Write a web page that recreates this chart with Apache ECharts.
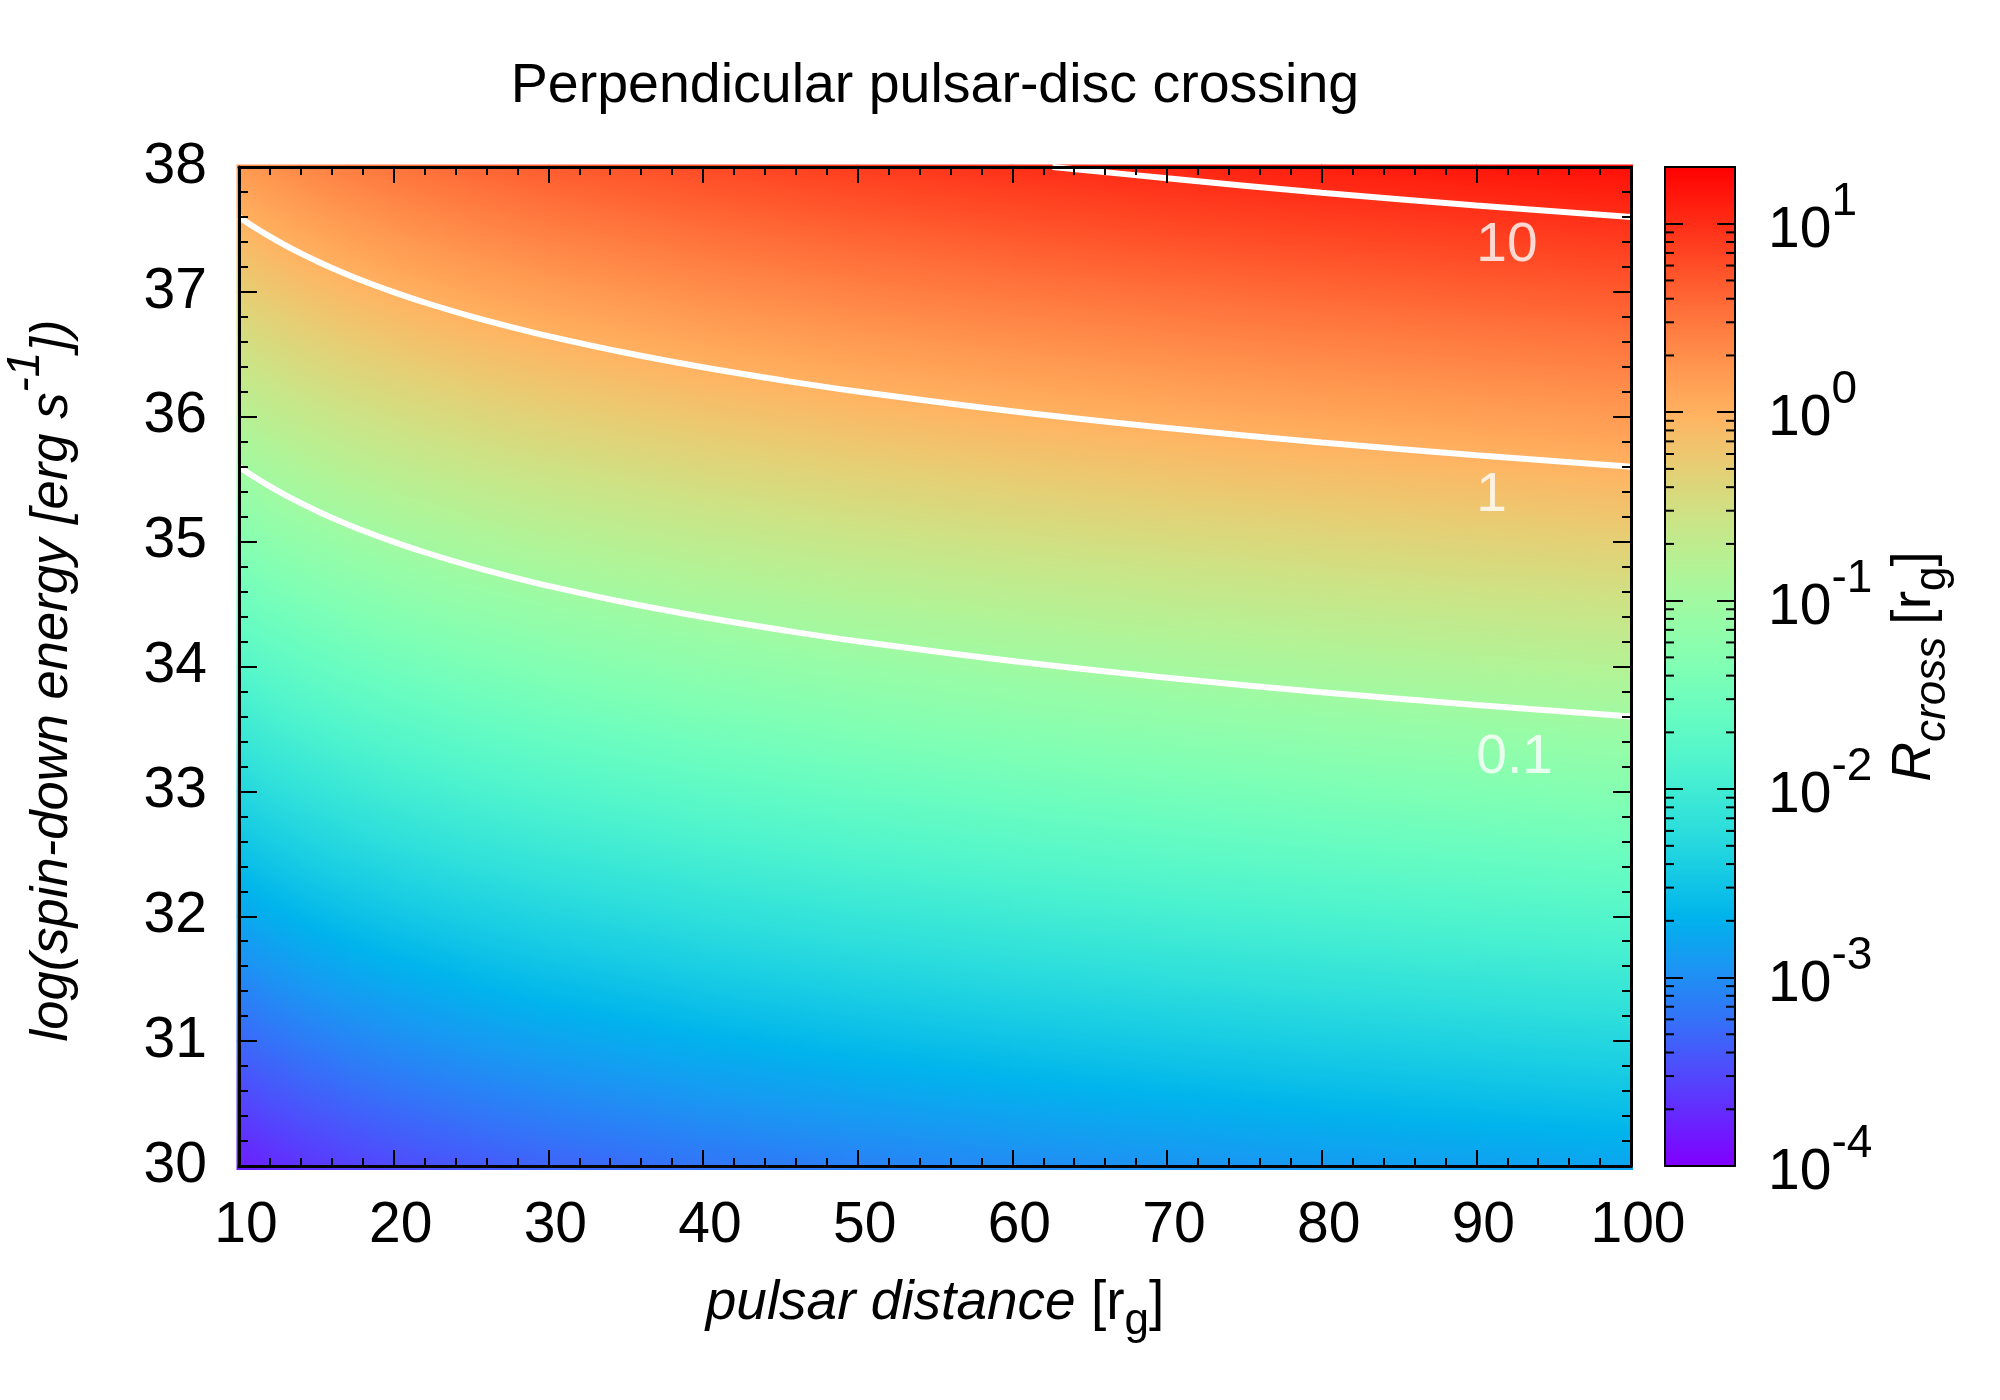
<!DOCTYPE html>
<html>
<head>
    <meta charset="UTF-8">
    <script src="https://cdn.jsdelivr.net/npm/echarts@6/dist/echarts.min.js"></script>
    <title>Perpendicular pulsar-disc crossing</title>
    <style>
        html, body { margin: 0; padding: 0; background: #fff; }
        #chart { width: 2000px; height: 1400px; }
    </style>
</head>
<body>
    <div id="chart"></div>
    <script type="text/javascript">
    // pulsar distance columns and log(spin-down energy) rows of the colour map
    var distances = [10, 12, 14, 17, 20, 25, 30, 40, 50, 60, 70, 80, 90, 100];
    var spinDown = [30, 31, 32, 33, 34, 35, 36, 37, 38];

    var logR30 = [-3.800, -3.721, -3.654, -3.570, -3.499, -3.402, -3.323, -3.198, -3.101, -3.022, -2.955, -2.897, -2.846, -2.800];
    var logR31 = [-3.300, -3.221, -3.154, -3.070, -2.999, -2.902, -2.823, -2.698, -2.601, -2.522, -2.455, -2.397, -2.346, -2.300];
    var logR32 = [-2.800, -2.721, -2.654, -2.570, -2.499, -2.402, -2.323, -2.198, -2.101, -2.022, -1.955, -1.897, -1.846, -1.800];
    var logR33 = [-2.300, -2.221, -2.154, -2.070, -1.999, -1.902, -1.823, -1.698, -1.601, -1.522, -1.455, -1.397, -1.346, -1.300];
    var logR34 = [-1.800, -1.721, -1.654, -1.570, -1.499, -1.402, -1.323, -1.198, -1.101, -1.022, -0.955, -0.897, -0.846, -0.800];
    var logR35 = [-1.300, -1.221, -1.154, -1.070, -0.999, -0.902, -0.823, -0.698, -0.601, -0.522, -0.455, -0.397, -0.346, -0.300];
    var logR36 = [-0.800, -0.721, -0.654, -0.570, -0.499, -0.402, -0.323, -0.198, -0.101, -0.022, 0.045, 0.103, 0.154, 0.200];
    var logR37 = [-0.300, -0.221, -0.154, -0.070, 0.001, 0.098, 0.177, 0.302, 0.399, 0.478, 0.545, 0.603, 0.654, 0.700];
    var logR38 = [0.200, 0.279, 0.346, 0.430, 0.501, 0.598, 0.677, 0.802, 0.899, 0.978, 1.045, 1.103, 1.154, 1.200];
    var logRRows = [logR30, logR31, logR32, logR33, logR34, logR35, logR36, logR37, logR38];

    // contour lines
    var contourX = [10, 11, 12, 13, 14, 15, 16, 18, 20, 22, 25, 28, 30, 35, 40, 45, 50, 60, 70, 80, 90, 100];
    var contour01 = [35.6, 35.517, 35.442, 35.372, 35.308, 35.248, 35.192, 35.089, 34.998, 34.915, 34.804, 34.706, 34.646, 34.512, 34.396, 34.294, 34.202, 34.044, 33.91, 33.794, 33.692, 33.6];
    var contour1 = [37.6, 37.517, 37.442, 37.372, 37.308, 37.248, 37.192, 37.089, 36.998, 36.915, 36.804, 36.706, 36.646, 36.512, 36.396, 36.294, 36.202, 36.044, 35.91, 35.794, 35.692, 35.6];
    var contour10X = [62.6, 70, 80, 90, 100];
    var contour10 = [38.0, 37.91, 37.794, 37.692, 37.6];
    var contourNames = ['10', '1', '0.1'];
    var contourNameX = [90, 90, 90];
    var contourNameY = [37.37, 35.37, 33.27];

    // colour bar
    var cbMin = -4;
    var cbMax = 1.301;
    var cbDecades = [-4, -3, -2, -1, 0];
    var cbMantissas = [2, 3, 4, 5, 6, 7, 8, 9];

    // rainbow palette, low to high
    var palette = ['#8000ff', '#6628fe', '#4d4ffc', '#3374f8', '#1a96f3', '#00b4ec', '#1acee3',
        '#33e3d9', '#4df3ce', '#66fcc2', '#80ffb4', '#99fca6', '#b3f396', '#cce385', '#e6ce74',
        '#ffb462', '#ff964f', '#ff743c', '#ff4f28', '#ff2814', '#ff0000'];

    var FONT = '"Liberation Sans", Arial, sans-serif';
    var LABEL_SIZE = 57;
    var SMALL_SIZE = 46;

    var chart = echarts.init(document.getElementById('chart'));

    function colorOf(z) {
        var t = (z - cbMin) / (cbMax - cbMin);
        return echarts.color.lerp(Math.max(0, Math.min(1, t)), palette);
    }

    // cells of the colour map: x0, x1, y0, y1, then corner values
    var cells = [];
    for (var r = 0; r < spinDown.length - 1; r++) {
        for (var c = 0; c < distances.length - 1; c++) {
            cells.push([distances[c], distances[c + 1], spinDown[r], spinDown[r + 1],
                logRRows[r][c], logRRows[r][c + 1], logRRows[r + 1][c], logRRows[r + 1][c + 1]]);
        }
    }

    // one rect per cell, gradient runs across the iso-lines of that cell
    function renderCell(params, api) {
        var x0 = api.value(0), x1 = api.value(1), y0 = api.value(2), y1 = api.value(3);
        var zBL = api.value(4), zBR = api.value(5), zTL = api.value(6), zTR = api.value(7);
        var bl = api.coord([x0, y0]);
        var tr = api.coord([x1, y1]);
        var gx = ((zBR - zBL) + (zTR - zTL)) / 2 / (tr[0] - bl[0]);
        var gy = ((zTL - zBL) + (zTR - zBR)) / 2 / (tr[1] - bl[1]);
        var cx = (bl[0] + tr[0]) / 2, cy = (bl[1] + tr[1]) / 2;
        var zc = (zBL + zBR + zTL + zTR) / 4;
        var zLo = Math.min(zBL, zBR, zTL, zTR), zHi = Math.max(zBL, zBR, zTL, zTR);
        var g2 = gx * gx + gy * gy;
        var stops = [];
        for (var i = 0; i <= 16; i++) {
            stops.push({ offset: i / 16, color: colorOf(zLo + (zHi - zLo) * i / 16) });
        }
        var fill = new echarts.graphic.LinearGradient(
            cx + gx * (zLo - zc) / g2, cy + gy * (zLo - zc) / g2,
            cx + gx * (zHi - zc) / g2, cy + gy * (zHi - zc) / g2, stops, true);
        // map bleeds a little past the frame, as in the original raster
        var left = x0 === 10 ? bl[0] - 2.5 : Math.floor(bl[0]);
        var right = x1 === 100 ? tr[0] + 2 : Math.ceil(tr[0]);
        var top = y1 === 38 ? tr[1] - 2.5 : Math.floor(tr[1]);
        var bottom = y0 === 30 ? bl[1] + 4 : Math.ceil(bl[1]);
        return {
            type: 'rect',
            shape: { x: left, y: top, width: right - left, height: bottom - top },
            style: { fill: fill },
            silent: true
        };
    }

    var cbStops = palette.map(function (col, i) {
        return { offset: i / (palette.length - 1), color: col };
    });

    function renderBar(params, api) {
        var bl = api.coord([0, cbMin]);
        var tr = api.coord([1, cbMax]);
        return {
            type: 'rect',
            shape: { x: bl[0], y: tr[1], width: tr[0] - bl[0], height: bl[1] - tr[1] },
            style: { fill: new echarts.graphic.LinearGradient(0, 1, 0, 0, cbStops) },
            silent: true
        };
    }

    var cbMinorData = [];
    cbDecades.forEach(function (d) {
        cbMantissas.forEach(function (m) {
            cbMinorData.push([Math.log10(m) + d]);
        });
    });

    function renderMinorTick(params, api) {
        var a = api.coord([0, api.value(0)]);
        var b = api.coord([1, api.value(0)]);
        var st = { stroke: '#000', lineWidth: 2 };
        return {
            type: 'group',
            silent: true,
            children: [
                { type: 'line', shape: { x1: a[0], y1: a[1], x2: a[0] + 9, y2: a[1] }, style: st },
                { type: 'line', shape: { x1: b[0], y1: b[1], x2: b[0] - 9, y2: b[1] }, style: st }
            ]
        };
    }

    function pairs(xs, ys) {
        return xs.map(function (x, i) { return [x, ys[i]]; });
    }

    function contourSeries(xs, ys) {
        return {
            type: 'line',
            xAxisIndex: 0,
            yAxisIndex: 0,
            data: pairs(xs, ys),
            showSymbol: false,
            smooth: 0.4,
            lineStyle: { color: '#fff', width: 6 },
            silent: true,
            z: 3
        };
    }

    var plainText = { fontFamily: FONT, fontSize: LABEL_SIZE, color: '#000' };
    var axisBlack = { show: true, onZero: false, lineStyle: { color: '#000', width: 3 } };
    var tickBlack = { lineStyle: { color: '#000', width: 2 } };

    function xMainAxis(pos, showLabel) {
        return {
            type: 'value', gridIndex: 0, position: pos, min: 10, max: 100, interval: 10, z: 10,
            splitLine: { show: false },
            axisLine: axisBlack,
            axisTick: { show: true, inside: true, length: 16, lineStyle: tickBlack.lineStyle },
            minorTick: { show: true, splitNumber: 5, length: 8, lineStyle: tickBlack.lineStyle },
            axisLabel: {
                show: showLabel, margin: 32, fontFamily: FONT, fontSize: LABEL_SIZE, color: '#000',
                padding: [0, 0, 0, 14], showMinLabel: true, showMaxLabel: true
            }
        };
    }

    function yMainAxis(pos, showLabel) {
        return {
            type: 'value', gridIndex: 0, position: pos, min: 30, max: 38, interval: 1, z: 10,
            splitLine: { show: false },
            axisLine: axisBlack,
            axisTick: { show: true, inside: true, length: 18, lineStyle: tickBlack.lineStyle },
            minorTick: { show: true, splitNumber: 5, length: 9, lineStyle: tickBlack.lineStyle },
            axisLabel: {
                show: showLabel, margin: 32, fontFamily: FONT, fontSize: LABEL_SIZE, color: '#000',
                padding: [10, 0, 0, 0], showMinLabel: true, showMaxLabel: true
            }
        };
    }

    function xBarAxis(pos) {
        return {
            type: 'value', gridIndex: 1, position: pos, min: 0, max: 1, z: 10,
            splitLine: { show: false },
            axisTick: { show: false },
            axisLabel: { show: false },
            axisLine: { show: true, onZero: false, lineStyle: { color: '#000', width: 2 } }
        };
    }

    function yBarAxis(pos, showLabel) {
        return {
            type: 'value', gridIndex: 1, position: pos, min: cbMin, max: cbMax, interval: 1, z: 10,
            splitLine: { show: false },
            axisLine: { show: true, onZero: false, lineStyle: { color: '#000', width: 2 } },
            axisTick: { show: true, inside: true, length: 18, lineStyle: tickBlack.lineStyle },
            axisLabel: {
                show: showLabel, margin: 33, showMinLabel: true, showMaxLabel: false,
                padding: [15, 0, 0, 0], align: 'left',
                formatter: function (v) {
                    return Number.isInteger(v) ? '{b|10}{s|' + v + '}' : '';
                },
                rich: {
                    b: plainText,
                    s: { fontFamily: FONT, fontSize: SMALL_SIZE, color: '#000', padding: [0, 0, 58, 0] }
                }
            }
        };
    }

    var option = {
        animation: false,
        backgroundColor: '#fff',
        title: {
            text: 'Perpendicular pulsar-disc crossing',
            left: 930,
            top: 54,
            textAlign: 'center',
            textStyle: { fontFamily: FONT, fontSize: 55.5, fontWeight: 'normal', color: '#000' }
        },
        grid: [
            { left: 239, top: 167, width: 1392, height: 999, outerBoundsMode: 'none' },
            { left: 1665, top: 167, width: 70, height: 999, outerBoundsMode: 'none' }
        ],
        xAxis: [
            Object.assign(xMainAxis('bottom', true), {
                name: '{i|pulsar distance }{n|[r}{d|g}{n|]}',
                nameLocation: 'middle',
                nameGap: 98,
                nameMoveOverlap: false,
                nameTextStyle: {
                    rich: {
                        i: { fontFamily: FONT, fontSize: 55, fontStyle: 'italic', color: '#000' },
                        n: { fontFamily: FONT, fontSize: 55, color: '#000' },
                        d: { fontFamily: FONT, fontSize: 44, color: '#000', padding: [36, 0, 0, 0] }
                    }
                }
            }),
            xMainAxis('top', false),
            xBarAxis('bottom'),
            xBarAxis('top')
        ],
        yAxis: [
            Object.assign(yMainAxis('left', true), {
                name: '{i|log(spin-down energy [erg s}{u|-1}{i|])}',
                nameLocation: 'middle',
                nameRotate: 90,
                nameGap: 138,
                nameMoveOverlap: false,
                nameTextStyle: {
                    padding: [0, 28, 0, 0],
                    rich: {
                        i: { fontFamily: FONT, fontSize: 52.6, fontStyle: 'italic', color: '#000' },
                        u: { fontFamily: FONT, fontSize: SMALL_SIZE, fontStyle: 'italic', color: '#000', padding: [0, 0, 52, 0] }
                    }
                }
            }),
            yMainAxis('right', false),
            yBarAxis('left', false),
            Object.assign(yBarAxis('right', true), {
                name: '{i|R}{c|cross }{n|[r}{d|g}{n|]}',
                nameLocation: 'middle',
                nameRotate: 90,
                nameGap: 140,
                nameMoveOverlap: false,
                nameTextStyle: {
                    rich: {
                        i: { fontFamily: FONT, fontSize: 55, fontStyle: 'italic', color: '#000' },
                        n: { fontFamily: FONT, fontSize: 55, color: '#000' },
                        c: { fontFamily: FONT, fontSize: 44, fontStyle: 'italic', color: '#000', padding: [36, 0, 0, 0] },
                        d: { fontFamily: FONT, fontSize: 44, color: '#000', padding: [36, 0, 0, 0] }
                    }
                }
            })
        ],
        series: [
            {
                type: 'custom',
                xAxisIndex: 0,
                yAxisIndex: 0,
                data: cells,
                encode: { x: [0, 1], y: [2, 3] },
                renderItem: renderCell,
                z: 1
            },
            contourSeries(contourX, contour01),
            contourSeries(contourX, contour1),
            contourSeries(contour10X, contour10),
            {
                type: 'scatter',
                xAxisIndex: 0,
                yAxisIndex: 0,
                symbolSize: 0,
                silent: true,
                z: 4,
                data: contourNames.map(function (n, i) {
                    return { name: n, value: [contourNameX[i], contourNameY[i]] };
                }),
                label: {
                    show: true,
                    position: 'right',
                    distance: 0,
                    formatter: '{b}',
                    fontFamily: FONT,
                    fontSize: 55,
                    color: '#fff'
                }
            },
            {
                type: 'custom',
                xAxisIndex: 2,
                yAxisIndex: 2,
                data: [[0, cbMin]],
                encode: { x: 0, y: 1 },
                renderItem: renderBar,
                z: 1
            },
            {
                type: 'custom',
                xAxisIndex: 2,
                yAxisIndex: 2,
                data: cbMinorData,
                encode: { y: 0 },
                renderItem: renderMinorTick,
                z: 5
            }
        ]
    };

    chart.setOption(option);
    </script>
</body>
</html>
